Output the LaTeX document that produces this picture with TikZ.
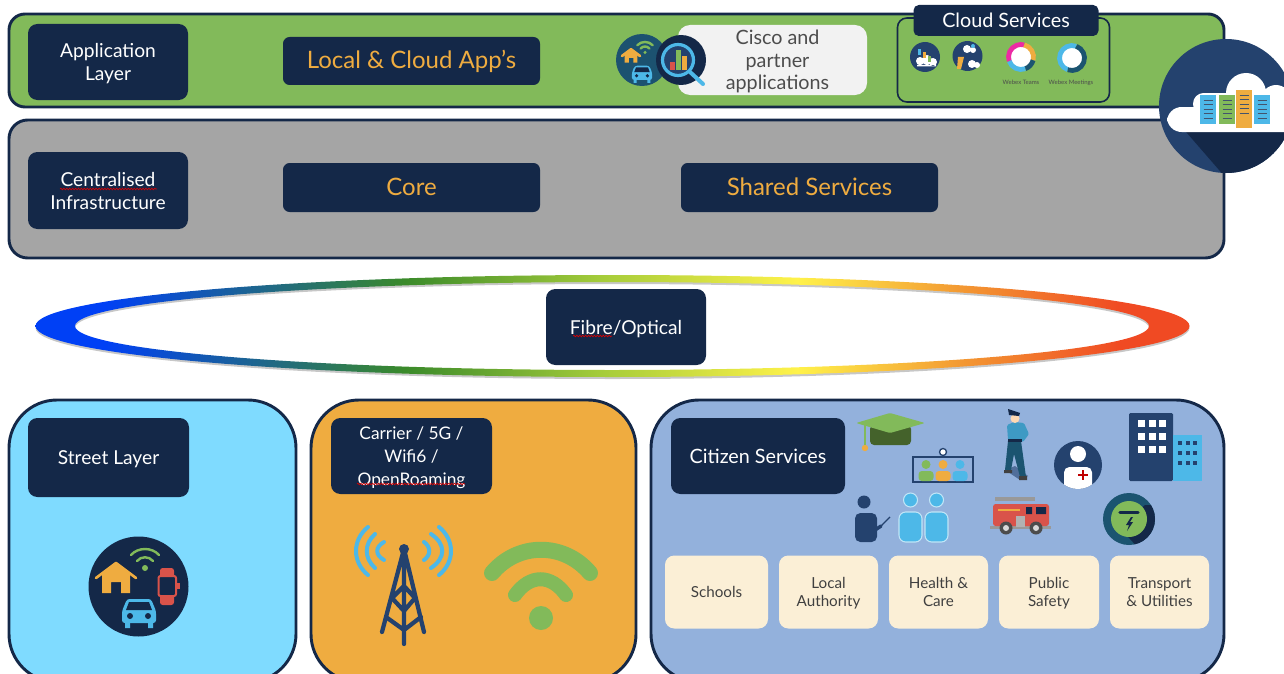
\documentclass[tikz,border=0pt]{standalone}
\usepackage{fontspec}
\setmainfont{Lato}
\usetikzlibrary{decorations.pathmorphing}
\definecolor{navy}{HTML}{142848}
\definecolor{slate}{HTML}{24426E}
\definecolor{leaf}{HTML}{82BA5A}
\definecolor{amber}{HTML}{EFAC40}
\definecolor{sky}{HTML}{7FDBFF}
\definecolor{azure}{HTML}{4DB8E8}
\definecolor{steel}{HTML}{93B1DC}
\definecolor{cream}{HTML}{FBEFD6}
\definecolor{ash}{HTML}{A5A5A5}
\definecolor{teal}{HTML}{1B5470}
\definecolor{brick}{HTML}{D9534A}
\definecolor{olive}{HTML}{44622B}
\definecolor{ringblue}{HTML}{0040F5}
\definecolor{ringgreen}{HTML}{3A8A2A}
\definecolor{ringlime}{HTML}{A5CC3A}
\definecolor{ringyellow}{HTML}{FFF24A}
\definecolor{ringorange}{HTML}{F39A33}
\definecolor{ringred}{HTML}{F04A23}
\pgfdeclarehorizontalshading{ringfade}{100bp}{
  color(0bp)=(ringblue); color(28bp)=(ringblue); color(41bp)=(ringgreen);
  color(49.5bp)=(ringlime); color(58bp)=(ringyellow);
  color(65bp)=(ringorange); color(72bp)=(ringred); color(100bp)=(ringred)}
\tikzset{
  house icon/.pic={
    \fill[amber] (-14,-4) -- (0,-14) -- (14,-4) -- (14,15) -- (5,15) -- (5,4) -- (-5,4) -- (-5,15) -- (-14,15) -- cycle;
    \draw[amber, line width=2pt, line cap=round, line join=round] (-20,0) -- (0,-15) -- (20,0);
  },
  car icon/.pic={
    \fill[azure, rounded corners=2pt] (-17,-2) -- (-12,-14) -- (12,-14) -- (17,-2) -- (17,10) -- (-17,10) -- cycle;
    \fill[azure] (-14,8) rectangle (-9,15) (9,8) rectangle (14,15);
    \fill[navy] (-10,-11) -- (10,-11) -- (13,-3) -- (-13,-3) -- cycle;
    \fill[navy] (-9,3) circle (3) (9,3) circle (3);
  },
  wifi icon/.pic={
    \draw[leaf, line width=1.8pt, line cap=round] (-14,-5) .. controls (-7,-13) and (7,-13) .. (14,-5);
    \draw[leaf, line width=1.8pt, line cap=round] (-8,1) .. controls (-4,-4) and (4,-4) .. (8,1);
    \fill[leaf] (0,8) circle (3);
  }
}
\begin{document}
\begin{tikzpicture}[
    x=0.75pt, y=-0.75pt,
    size/.style 2 args={minimum width=#1*0.75pt, minimum height=#2*0.75pt, inner sep=0pt},
    panel/.style={draw=navy, line width=2.2pt, rounded corners=#1},
    label box/.style={fill=navy, text=white, rounded corners=7pt, align=center, text depth=0pt,
        font=\fontsize{14.4}{17.2}\selectfont},
    gold box/.style={fill=navy, text=amber, rounded corners=5pt, text height=14pt, text depth=2pt,
        font=\fontsize{18}{20}\selectfont},
    service/.style={fill=cream, rounded corners=7pt, text=black!75, align=center, size={#1}{73},
        text depth=0pt, font=\fontsize{11.4}{13.5}\selectfont},
    squiggle/.style={draw=red!85!black, line width=.5pt, decorate,
        decoration={snake, amplitude=.6pt, segment length=2.2pt}}
]
\clip (0,0) rectangle (1284,674);
\useasboundingbox (0,0) rectangle (1284,674);

% Layer panels
\node[panel=12pt, fill=leaf, size={1215}{93}] (applayer) at (616.5,60.5) {};
\node[panel=14pt, fill=ash, size={1215}{138}] (infra) at (616.5,189) {};
\node[panel=36pt, fill=sky, size={287}{282}] (street) at (152.5,541) {};
\node[panel=36pt, fill=amber, size={325}{282}] (carrier) at (473.5,541) {};
\node[panel=36pt, fill=steel, size={573}{282}] (citizen) at (937.5,541) {};

% Application layer
\node[label box, size={160}{76}] (appbox) at (108,62) {Application\\Layer};
\node[gold box, size={257}{48}] (localapps) at (411.5,61) {Local \& Cloud App's};
\node[fill=black!5, rounded corners=9pt, size={189}{70}] (partner) at (772.5,60) {};
\node[align=center, text=black!70, inner sep=0pt, text depth=0pt, font=\fontsize{14.8}{17}\selectfont] (partnertext) at (777.5,60) {Cisco and\\partner\\applications};
\node[circle, fill=teal!90!slate, size={52}{52}] (homeicon) at (642,60) {};
\pic[scale=.45] at (631,56) {house icon};
\pic[scale=.55] at (645,48) {wifi icon};
\pic[scale=.6] at (642,74) {car icon};
\node[circle, fill=navy, size={50}{50}] (lens) at (681,60) {};
\draw[azure, line width=2.4pt, fill=slate] (678,60) circle (15.5);
\draw[azure, line width=3pt, line cap=round] (690,72) -- (703,84);
\fill[brick] (670,62) rectangle (675,70);
\fill[leaf] (676,50) rectangle (681,70);
\fill[amber] (682,56) rectangle (687,70);

% Cloud services
\node[draw=navy, line width=1.2pt, fill=leaf, rounded corners=7pt, size={212}{84}] (cloudframe) at (1003.5,60) {};
\node[label box, rounded corners=4pt, size={185}{31}, font=\fontsize{14.8}{17}\selectfont] (cloudbox) at (1006,20.5) {Cloud Services};
\node[circle, fill=slate, size={30}{30}] (svcone) at (925,57) {};
\fill[white] (920,61) circle (4) (927,60) circle (5) (933,62) circle (4) (917,65) rectangle (936,66.5);
\fill[azure] (918,49) rectangle (921,55);
\fill[amber] (923,52) rectangle (926,58);
\fill[leaf] (928,56) rectangle (931,62);
\node[circle, fill=slate, size={30}{30}] (svctwo) at (967.5,56) {};
\fill[white] (967,49) circle (4) (973,50) circle (3) (972,64) circle (4) (977,65) circle (3);
\fill[amber] (958,57) -- (964,57) -- (961,69) -- (957,69) -- cycle;
\fill[azure] (973,46) circle (2);
\node[circle, fill=white, size={22}{22}] (teamsring) at (1021,57) {};
\draw[line width=3.6pt, brick!50!magenta] (1021,57) ++(-200:12.5) arc (-200:-75:12.5);
\draw[line width=3.6pt, amber] (1021,57) ++(-75:12.5) arc (-75:15:12.5);
\draw[line width=3.6pt, teal] (1021,57) ++(15:12.5) arc (15:70:12.5);
\draw[line width=3.6pt, azure] (1021,57) ++(70:12.5) arc (70:160:12.5);
\node[font=\fontsize{4.5}{5}\selectfont, text=black!70, inner sep=0pt] (teamstext) at (1021,82) {Webex Teams};
\node[circle, fill=white, size={22}{22}] (meetring) at (1072,58) {};
\draw[line width=3.6pt, azure] (1072,58) ++(-70:12.5) arc (-70:-250:12.5);
\draw[line width=3.6pt, teal] (1072,58) ++(-250:12.5) arc (-250:-430:12.5);
\node[font=\fontsize{4.5}{5}\selectfont, text=black!70, inner sep=0pt] (meettext) at (1071,83) {Webex Meetings};

% Cloud badge
\node[circle, fill=slate, size={134}{134}] (badge) at (1226,106) {};
\begin{scope}
  \clip (1226,106) circle (67);
  \fill[navy] (1180,125) -- (1226,178) -- (1300,178) -- (1300,125) -- cycle;
  \fill[white, rounded corners=11pt] (1167,107) rectangle (1310,132);
  \fill[white, rounded corners=8pt] (1193,93) rectangle (1240,115);
  \fill[white] (1246,93) circle (20) (1276,100) circle (15);
\end{scope}
\foreach \xa/\yt/\yb/\col in {1200/95/124/azure, 1219/95/124/leaf, 1236/90/128/amber, 1254/95/124/azure} {
  \fill[\col] (\xa,\yt) rectangle (\xa+16,\yb);
  \foreach \ya in {0,1,...,4}
    \draw[navy!80, line width=.7pt] (\xa+3.5,\yt+5+\ya*4.6) -- (\xa+12.5,\yt+5+\ya*4.6);
}

% Infrastructure
\node[label box, size={160}{77}] (centralbox) at (108,190.5) {Centralised\\Infrastructure};
\draw[squiggle] (60,189) -- (157,189);
\node[gold box, size={257}{49}] (core) at (411.5,187.5) {Core};
\node[gold box, size={257}{49}] (shared) at (809.5,187.5) {Shared Services};

% Optical ring
\fill[black!22, even odd rule] (612.5,328) ellipse (577 and 51) (612,328) ellipse (537 and 44);
\shade[shading=ringfade, even odd rule] (612.5,326) ellipse (577 and 51) (612,326) ellipse (537 and 44);
\node[label box, size={160}{76}] (fibre) at (626,327) {Fibre/Optical};
\draw[squiggle] (573,336) -- (612,336);

% Street layer
\node[label box, size={161}{79}] (streetbox) at (108.5,457.5) {Street Layer};
\node[circle, fill=navy, size={100}{100}] (streeticon) at (138.5,586.5) {};
\pic at (116,578) {house icon};
\pic at (145,560) {wifi icon};
\pic at (139,613) {car icon};
\fill[brick, rounded corners=2pt] (160,568) rectangle (174,605);
\draw[brick, fill=navy, line width=1.5pt, rounded corners=1.5pt] (158.5,576) rectangle (176,596);
\fill[brick] (176,583) rectangle (180,589);

% Carrier layer
\node[label box, size={161}{76}, font=\fontsize{13}{17}\selectfont] (carrierbox) at (411.5,456) {Carrier / 5G /\\Wifi6 /\\OpenRoaming};
\draw[squiggle] (357,484) -- (465,484);
\begin{scope}[azure, line width=3pt, line cap=round]
  \draw (368,527) .. controls (352,540) and (352,562) .. (368,575);
  \draw (375,534) .. controls (364,544) and (364,558) .. (375,568);
  \draw (384,542) .. controls (375,547) and (375,555) .. (384,560);
  \draw (439,527) .. controls (455,540) and (455,562) .. (439,575);
  \draw (431,534) .. controls (446,544) and (446,558) .. (431,568);
  \draw (424,542) .. controls (431,547) and (431,555) .. (424,560);
\end{scope}
\fill[slate] (404,549) circle (5);
\draw[slate, line width=3.2pt, line cap=round, line join=round]
  (404,549) -- (382,632) (404,549) -- (424,632) (404,549) -- (404,644)
  (392,598) -- (404,586) -- (415,598) -- (404,611) -- cycle
  (386,617) -- (404,630) -- (421,617);
\draw[leaf, line width=12pt, line cap=round] (492,573) .. controls (518,542) and (564,542) .. (590,573);
\draw[leaf, line width=10.5pt, line cap=round] (515,595) .. controls (530,574) and (551,574) .. (566,595);
\fill[leaf] (541,618) ellipse (12 and 12);

% Citizen services
\node[label box, size={174}{76}, font=\fontsize{14.8}{17}\selectfont] (citizenbox) at (758,456) {Citizen Services};
\node[service=103] (schools) at (716.5,592) {Schools};
\node[service=99] (localauth) at (828.5,592) {Local\\Authority};
\node[service=99] (health) at (938.5,592) {Health \&\\Care};
\node[service=100] (safety) at (1049,592) {Public\\Safety};
\node[service=99] (transport) at (1159.5,592) {Transport\\\& Utilities};

% Graduation cap
\fill[olive, rounded corners=3pt] (870,425) rectangle (911,445);
\fill[leaf, rounded corners=1pt] (856,423) -- (890,413) -- (925,423) -- (890,433) -- cycle;
\draw[leaf, line width=1.2pt] (865,424) -- (865,445);
\fill[amber] (865,448) circle (3.2);
% Video screen
\draw[slate, line width=1.3pt] (913,457) rectangle (973,482);
\draw[slate, line width=1pt, fill=white] (943,452) circle (3.5);
\foreach \xa/\col in {926/leaf, 943/amber, 960/azure} {
  \fill[\col] (\xa,464.5) circle (4.5);
  \fill[\col, rounded corners=2.5pt] (\xa-7.5,471) rectangle (\xa+7.5,481);
}
% Police officer
\fill[slate!60!steel] (1005,470) -- (1020,480) -- (1028,476) -- (1015,466) -- cycle;
\fill[teal] (1008,441) -- (1021,441) -- (1026,477) -- (1020,477) -- (1014,454) -- (1011,470) -- (1005,470) -- cycle;
\fill[black!75] (1004,470) rectangle (1012,473) (1019,476) rectangle (1027,480);
\fill[azure!70!teal, rounded corners=1pt] (1007,425) -- (1014,422) -- (1024,423) -- (1029,434) -- (1023,442) -- (1008,440) -- cycle;
\fill[navy] (1008,438.5) rectangle (1022,441.5);
\fill[orange!30!white] (1015,418.5) circle (4.5);
\fill[navy] (1008,409) -- (1020,413) -- (1019,416) -- (1009,415) -- cycle;
% Health worker
\node[circle, fill=slate, size={48}{48}] (nurse) at (1078,465) {};
\fill[white] (1078,454) circle (8);
\begin{scope}
  \clip (1078,465) circle (24);
  \fill[white, rounded corners=4pt] (1064,467) rectangle (1092,495);
\end{scope}
\draw[red!75!black, line width=1.6pt] (1083,470) -- (1083,480) (1078,475) -- (1088,475);
% Buildings
\fill[slate, rounded corners=1pt] (1129,413) rectangle (1173,481);
\fill[azure] (1173,435) rectangle (1202,481);
\foreach \xa in {1141,1152,1162} \foreach \ya in {423,436,449}
  \fill[white] (\xa-3.5,\ya-3.5) rectangle (\xa+3.5,\ya+3.5);
\foreach \xa in {1180,1188,1195} \foreach \ya in {443,453,463}
  \fill[slate] (\xa-2,\ya-2) rectangle (\xa+2,\ya+2);
% Presenter and audience
\fill[slate] (864,502) circle (6.5);
\fill[slate, rounded corners=4pt] (855,513) rectangle (877,542);
\draw[slate, line width=2.6pt, line cap=round] (875,530) -- (881,526);
\draw[slate, line width=1pt] (881,526) -- (890,517);
\foreach \xa in {910.5,936.5} {
  \draw[azure!35!white, line width=.8pt, fill=azure] (\xa,500) circle (7);
  \draw[azure!35!white, line width=.8pt, fill=azure, rounded corners=5pt] (\xa-11.5,512) rectangle (\xa+11.5,542);
}
% Fire engine
\fill[black!40] (995,497) rectangle (1035,501);
\fill[black!40] (990,526) rectangle (1051,529);
\fill[brick, rounded corners=2pt] (993,504) rectangle (1049,526);
\draw[amber, line width=1pt] (998,510) -- (1020,510);
\fill[navy] (1026,507) rectangle (1032,514) (1036,507) rectangle (1046,514);
\fill[black!30] (1016,516) rectangle (1025,527);
\foreach \xa in {1006,1036} {
  \fill[black!70] (\xa,528) circle (6.5);
  \fill[black!15] (\xa,528) circle (3);
}
% Utilities badge
\node[circle, fill=teal, size={52}{52}] (utility) at (1129,519) {};
\begin{scope}
  \clip (1129,519) circle (26);
  \fill[navy] (1145,505) -- (1165,505) -- (1165,550) -- (1140,550) -- (1120,528) -- cycle;
\end{scope}
\node[circle, fill=leaf, size={36}{36}] (utilinner) at (1129,519) {};
\draw[navy, line width=2.4pt, line cap=round] (1120,512.5) -- (1138,512.5);
\fill[navy] (1131,517) -- (1126,525) -- (1129,525) -- (1127,531) -- (1133,522) -- (1130,522) -- (1133,517) -- cycle;
\end{tikzpicture}
\end{document}
